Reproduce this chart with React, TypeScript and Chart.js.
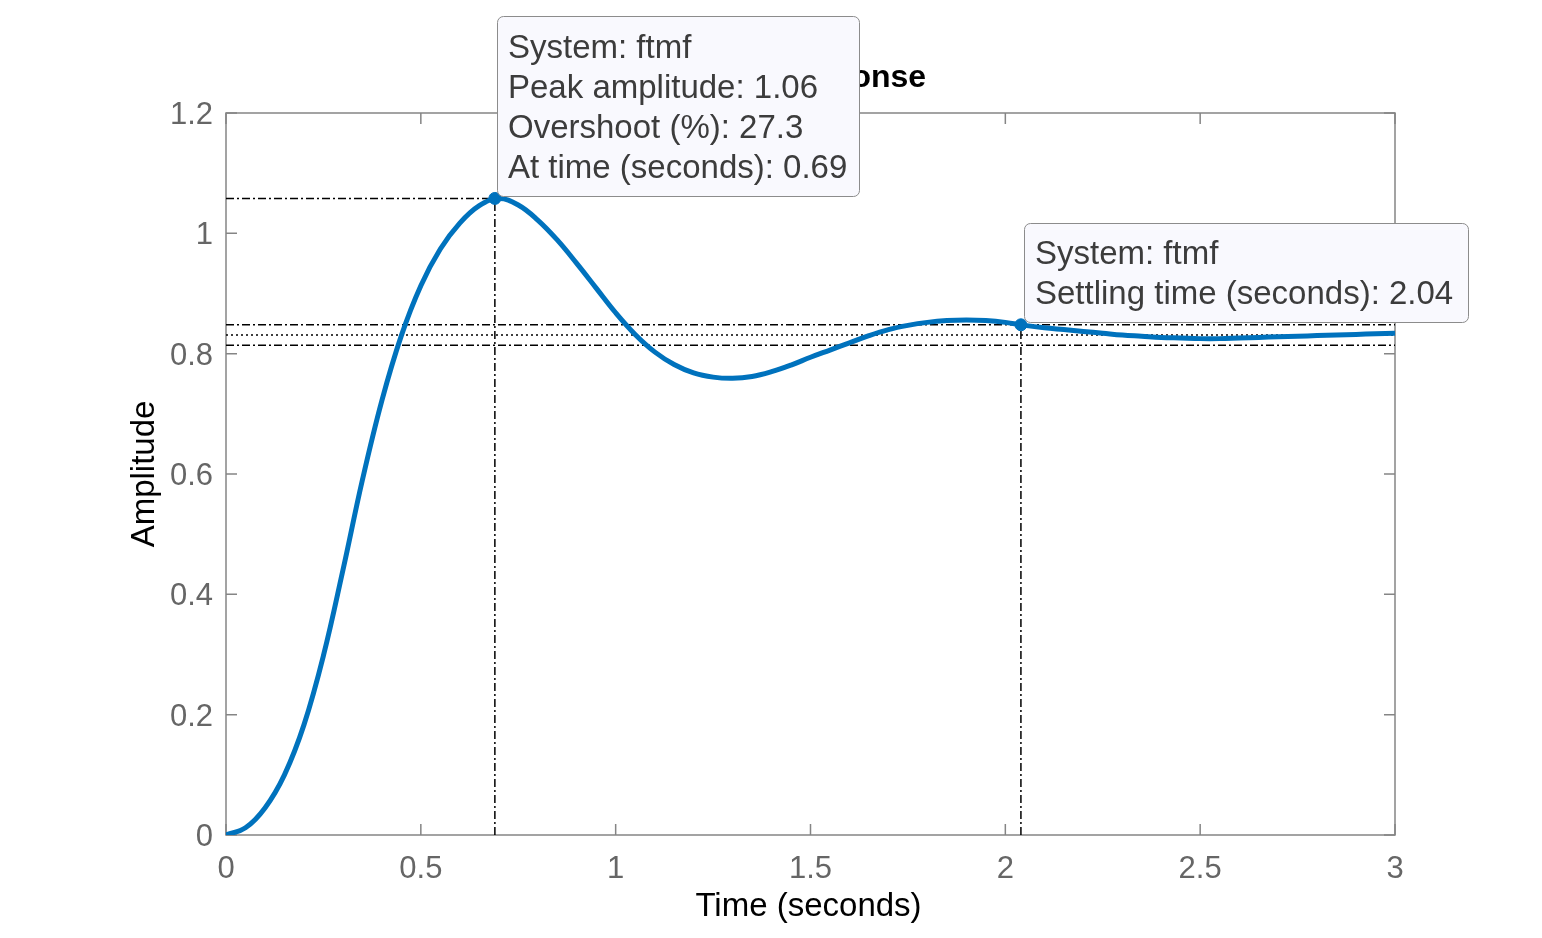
import React, { useEffect, useRef } from "react";
import { Chart, registerables } from "chart.js";

Chart.register(...registerables);

// ---- data ----
const timeValues = [
  0.0, 0.05, 0.1, 0.15, 0.2, 0.25, 0.3, 0.35, 0.4, 0.45, 0.5, 0.55, 0.6, 0.65, 0.7, 0.75, 0.8, 0.85, 0.9,
  0.95, 1.0, 1.05, 1.1, 1.15, 1.2, 1.25, 1.3, 1.35, 1.4, 1.45, 1.5, 1.55, 1.6, 1.65, 1.7, 1.75, 1.8, 1.85, 1.9,
  1.95, 2.0, 2.05, 2.1, 2.15, 2.2, 2.25, 2.3, 2.35, 2.4, 2.45, 2.5, 2.55, 2.6, 2.65, 2.7, 2.75, 2.8, 2.85, 2.9,
  2.95, 3.0,
];
const amplitudeValues = [
  0.0, 0.012, 0.045, 0.1, 0.183, 0.298, 0.44, 0.59, 0.722, 0.83, 0.913, 0.974, 1.017, 1.046, 1.058,
  1.047, 1.022, 0.989, 0.95, 0.909, 0.868, 0.832, 0.803, 0.782, 0.768, 0.761, 0.759, 0.762, 0.77, 0.781, 0.794,
  0.806, 0.818, 0.83, 0.84, 0.847, 0.852, 0.855, 0.856, 0.855, 0.852, 0.847, 0.843, 0.84, 0.837, 0.834, 0.831,
  0.829, 0.827, 0.826, 0.825, 0.825, 0.826, 0.827, 0.828, 0.829, 0.83, 0.831, 0.832, 0.833, 0.834,
];
const peakTime = 0.69;
const peakAmplitude = 1.058;
const settlingTime = 2.04;
const settlingAmplitude = 0.848;
const finalValue = 0.831;
const upperBound = 0.848;
const lowerBound = 0.814;
const xTicks = [0, 0.5, 1, 1.5, 2, 2.5, 3];
const yTicks = [0, 0.2, 0.4, 0.6, 0.8, 1.0, 1.2];
const xTickLabels = ["0", "0.5", "1", "1.5", "2", "2.5", "3"];
const yTickLabels = ["0", "0.2", "0.4", "0.6", "0.8", "1", "1.2"];
const titleText = "Step Response";
const xLabel = "Time (seconds)";
const yLabel = "Amplitude";
const peakTipLines = ["System: ftmf", "Peak amplitude: 1.06", "Overshoot (%): 27.3", "At time (seconds): 0.69"];
const settleTipLines = ["System: ftmf", "Settling time (seconds): 2.04"];

const W = 1542;
const H = 938;
const FONT = "'Liberation Sans', Arial, Helvetica, sans-serif";
const AXIS_GREY = "#858585";
const TICK_TEXT = "#666666";
const LINE_BLUE = "#0072BD";

function roundRect(ctx: CanvasRenderingContext2D, x: number, y: number, w: number, h: number, r: number) {
  ctx.beginPath();
  ctx.moveTo(x + r, y);
  ctx.lineTo(x + w - r, y);
  ctx.arcTo(x + w, y, x + w, y + r, r);
  ctx.lineTo(x + w, y + h - r);
  ctx.arcTo(x + w, y + h, x + w - r, y + h, r);
  ctx.lineTo(x + r, y + h);
  ctx.arcTo(x, y + h, x, y + h - r, r);
  ctx.lineTo(x, y + r);
  ctx.arcTo(x, y, x + r, y, r);
  ctx.closePath();
}

const framePlugin = {
  id: "matlabFrame",
  beforeDatasetsDraw(chart: any) {
    const { ctx, chartArea, scales } = chart;
    const { left, right, top, bottom } = chartArea;
    ctx.save();
    ctx.strokeStyle = AXIS_GREY;
    ctx.lineWidth = 1.5;
    ctx.strokeRect(left, top, right - left, bottom - top);
    ctx.beginPath();
    const tl = 11;
    xTicks.forEach((v) => {
      const x = scales.x.getPixelForValue(v);
      ctx.moveTo(x, bottom);
      ctx.lineTo(x, bottom - tl);
      ctx.moveTo(x, top);
      ctx.lineTo(x, top + tl);
    });
    yTicks.forEach((v) => {
      const y = scales.y.getPixelForValue(v);
      ctx.moveTo(left, y);
      ctx.lineTo(left + tl, y);
      ctx.moveTo(right, y);
      ctx.lineTo(right - tl, y);
    });
    ctx.stroke();
    ctx.restore();
  },
  afterDraw(chart: any) {
    const { ctx, chartArea, scales } = chart;
    const { left, right, top, bottom } = chartArea;
    ctx.save();
    // tick labels
    ctx.fillStyle = TICK_TEXT;
    ctx.font = `31px ${FONT}`;
    ctx.textAlign = "center";
    ctx.textBaseline = "alphabetic";
    xTicks.forEach((v, i) => {
      const x = scales.x.getPixelForValue(v);
      ctx.fillText(xTickLabels[i], x, bottom + 43);
    });
    ctx.textAlign = "right";
    yTicks.forEach((v, i) => {
      const y = scales.y.getPixelForValue(v);
      ctx.fillText(yTickLabels[i], left - 13, y + 11);
    });
    // axis labels
    ctx.fillStyle = "#000000";
    ctx.font = `33px ${FONT}`;
    ctx.textAlign = "center";
    ctx.fillText(xLabel, (left + right) / 2 - 2, 916);
    ctx.save();
    ctx.translate(154, (top + bottom) / 2);
    ctx.rotate(-Math.PI / 2);
    ctx.fillText(yLabel, 0, 0);
    ctx.restore();
    // title
    ctx.font = `bold 32px ${FONT}`;
    ctx.fillText(titleText, (left + right) / 2, 87);

    // data tips
    const drawTip = (x: number, y: number, w: number, h: number, lines: string[], firstBase: number) => {
      roundRect(ctx, x + 0.5, y + 0.5, w, h, 6);
      ctx.fillStyle = "#f9f9fe";
      ctx.fill();
      ctx.strokeStyle = "#8c8c8c";
      ctx.lineWidth = 1;
      ctx.stroke();
      ctx.fillStyle = "#3c3c3c";
      ctx.font = `33px ${FONT}`;
      ctx.textAlign = "left";
      lines.forEach((s, i) => ctx.fillText(s, x + 11, firstBase + i * 40));
    };
    drawTip(497, 16, 362, 180, peakTipLines, 58);
    drawTip(1024, 223, 444, 99, settleTipLines, 264);
    ctx.restore();
  },
};

export default function App() {
  const ref = useRef<HTMLCanvasElement | null>(null);
  useEffect(() => {
    document.body.style.margin = "0";
    const canvas = ref.current;
    if (!canvas) return;
    const dashDot = [8, 3, 2, 3];
    const refLine = (pts: { x: number; y: number }[], dash: number[]) => ({
      type: "line" as const,
      data: pts,
      borderColor: "#000000",
      borderWidth: 1.5,
      borderDash: dash,
      pointRadius: 0,
      tension: 0,
      fill: false,
      order: 3,
    });
    const chart = new Chart(canvas, {
      type: "line",
      data: {
        datasets: [
          {
            data: timeValues.map((t, i) => ({ x: t, y: amplitudeValues[i] })),
            borderColor: LINE_BLUE,
            borderWidth: 5,
            pointRadius: 0,
            tension: 0.4,
            fill: false,
            order: 1,
          },
          {
            type: "scatter",
            data: [
              { x: peakTime, y: peakAmplitude },
              { x: settlingTime, y: settlingAmplitude },
            ],
            backgroundColor: LINE_BLUE,
            borderColor: LINE_BLUE,
            pointRadius: 6,
            order: 0,
          } as any,
          refLine([{ x: 0, y: peakAmplitude }, { x: peakTime, y: peakAmplitude }], dashDot),
          refLine([{ x: peakTime, y: 0 }, { x: peakTime, y: peakAmplitude }], dashDot),
          refLine([{ x: settlingTime, y: 0 }, { x: settlingTime, y: settlingAmplitude }], dashDot),
          refLine([{ x: 0, y: upperBound }, { x: 3, y: upperBound }], dashDot),
          refLine([{ x: 0, y: lowerBound }, { x: 3, y: lowerBound }], dashDot),
          refLine([{ x: 0, y: finalValue }, { x: 3, y: finalValue }], [2, 3]),
        ],
      },
      options: {
        animation: false,
        responsive: false,
        maintainAspectRatio: false,
        layout: { padding: { top: 113, right: 147, left: 0, bottom: 0 } },
        plugins: { legend: { display: false }, title: { display: false }, tooltip: { enabled: false } },
        scales: {
          x: {
            type: "linear",
            min: 0,
            max: 3,
            grid: { display: false, drawTicks: false },
            border: { display: false },
            ticks: { display: false },
            afterFit: (s: any) => {
              s.height = 103;
            },
          },
          y: {
            type: "linear",
            min: 0,
            max: 1.2,
            grid: { display: false, drawTicks: false },
            border: { display: false },
            ticks: { display: false },
            afterFit: (s: any) => {
              s.width = 226;
            },
          },
        },
      },
      plugins: [framePlugin],
    } as any);
    return () => chart.destroy();
  }, []);
  return (
    <div style={{ position: "absolute", left: 0, top: 0, width: W, height: H, background: "#fff" }}>
      <canvas ref={ref} width={W} height={H} style={{ width: W, height: H, display: "block" }} />
    </div>
  );
}
